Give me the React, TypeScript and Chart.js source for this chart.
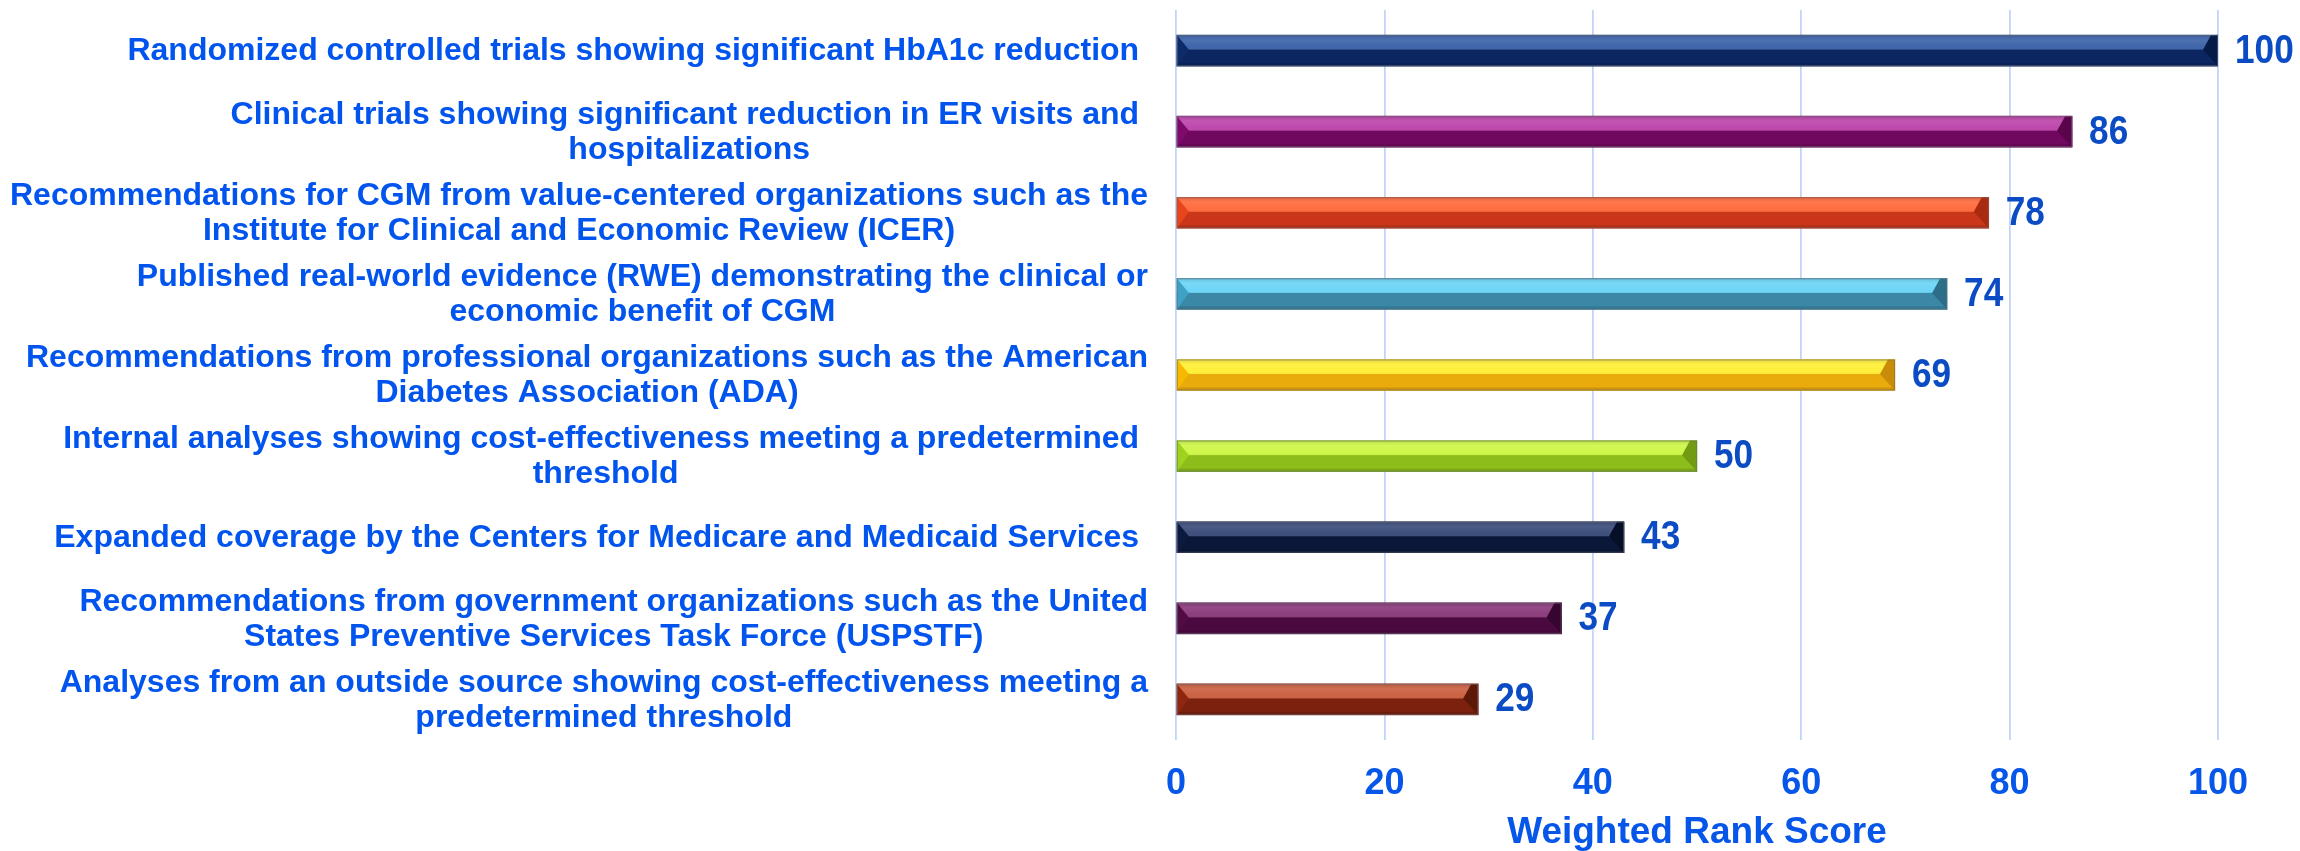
import React, { useEffect, useRef } from 'react';
import { Chart, registerables } from 'chart.js';

Chart.register(...registerables);

// ---- data ----
const categories: string[][] = [
  ['Randomized controlled trials showing significant HbA1c reduction '],
  ['Clinical trials showing significant reduction in ER visits and ', 'hospitalizations'],
  ['Recommendations for CGM from value-centered organizations such as the', 'Institute for Clinical and Economic Review (ICER)'],
  ['Published real-world evidence (RWE) demonstrating the clinical or', 'economic benefit of CGM'],
  ['Recommendations from professional organizations such as the American', 'Diabetes Association (ADA)'],
  ['Internal analyses showing cost-effectiveness meeting a predetermined ', 'threshold'],
  ['Expanded coverage by the Centers for Medicare and Medicaid Services '],
  ['Recommendations from government organizations such as the United', 'States Preventive Services Task Force (USPSTF)'],
  ['Analyses from an outside source showing cost-effectiveness meeting a', 'predetermined threshold'],
];
const scores: number[] = [100, 86, 78, 74, 69, 50, 43, 37, 29];
const xTickValues: number[] = [0, 20, 40, 60, 80, 100];
const axisTitle = 'Weighted Rank Score';

// ---- styles ----
const lightColors = ['#3F66AA', '#BE48AC', '#FF6D40', '#6FD5F7', '#FFEF3A', '#CEF74A', '#3E4F7D', '#8C3E7D', '#CB6244'];
const darkColors = ['#0B2661', '#70085F', '#C9361A', '#3A88A5', '#E9AA0C', '#8DBD1B', '#0B1739', '#4B0A3F', '#7C210E'];
const leftCapColors = ['#0D2A6A', '#7E0A6C', '#E8451C', '#3FA1C4', '#F8B800', '#9ED21F', '#0D1A40', '#520B45', '#8E2710'];
const rightCapColors = ['#061A48', '#5A044B', '#A82A10', '#2C6E88', '#C88C08', '#729A12', '#060F28', '#360530', '#5E1808'];

const FONT = '"Liberation Sans", Arial, Helvetica, sans-serif';
const LABEL_BLUE = '#0254EE';
const VALUE_BLUE = '#0B4CC4';

const bevelPlugin = {
  id: 'bevelBars',
  afterDatasetsDraw(chart: any) {
    const ctx: CanvasRenderingContext2D = chart.ctx;
    const meta = chart.getDatasetMeta(0);
    meta.data.forEach((el: any, i: number) => {
      const { x, y, base, height } = el.getProps(['x', 'y', 'base', 'height'], true);
      const L = Math.min(base, x);
      const R = Math.max(base, x);
      const T = y - height / 2;
      const B = y + height / 2;
      const S = T + height * 0.47;
      ctx.save();
      // bottom dark
      ctx.fillStyle = darkColors[i];
      ctx.fillRect(L, S, R - L, B - S);
      ctx.fillStyle = 'rgba(0,0,0,0.12)';
      ctx.fillRect(L, B - 3, R - L, 3);
      // top light
      ctx.fillStyle = lightColors[i];
      ctx.fillRect(L, T, R - L, S - T);
      const g = ctx.createLinearGradient(0, T, 0, S);
      g.addColorStop(0, 'rgba(0,0,0,0.12)');
      g.addColorStop(0.35, 'rgba(255,255,255,0.07)');
      g.addColorStop(0.8, 'rgba(255,255,255,0.0)');
      g.addColorStop(1, 'rgba(0,0,0,0.05)');
      ctx.fillStyle = g;
      ctx.fillRect(L, T, R - L, S - T);
      // left cap
      ctx.fillStyle = leftCapColors[i];
      ctx.beginPath();
      ctx.moveTo(L, T);
      ctx.lineTo(L + 12, S);
      ctx.lineTo(L, B);
      ctx.closePath();
      ctx.fill();
      // right cap
      ctx.fillStyle = rightCapColors[i];
      ctx.beginPath();
      ctx.moveTo(R - 7, T);
      ctx.lineTo(R, T);
      ctx.lineTo(R, B);
      ctx.lineTo(R - 15, S);
      ctx.closePath();
      ctx.fill();
      // border
      ctx.strokeStyle = 'rgba(110,110,120,0.55)';
      ctx.lineWidth = 1;
      ctx.strokeRect(L + 0.5, T + 0.5, R - L - 1, B - T - 1);
      // value label (slightly condensed)
      ctx.fillStyle = VALUE_BLUE;
      ctx.font = `bold 40px ${FONT}`;
      ctx.textAlign = 'left';
      ctx.textBaseline = 'middle';
      ctx.translate(R + 17, y + 1);
      ctx.scale(0.88, 1);
      ctx.fillText(String(scores[i]), 0, 0);
      ctx.restore();
    });
  },
  afterDraw(chart: any) {
    const ctx: CanvasRenderingContext2D = chart.ctx;
    const yScale = chart.scales.y;
    const right = chart.chartArea.left - 28;
    const lineH = 35;
    ctx.save();
    ctx.font = `bold 32px ${FONT}`;
    ctx.fillStyle = LABEL_BLUE;
    ctx.textAlign = 'left';
    ctx.textBaseline = 'middle';
    categories.forEach((lines, i) => {
      const cy = yScale.getPixelForTick(i);
      const blockW = Math.max(...lines.map((l) => ctx.measureText(l).width));
      const n = lines.length;
      lines.forEach((line, j) => {
        const w = ctx.measureText(line).width;
        const lx = right - blockW / 2 - w / 2;
        ctx.fillText(line, lx, cy + (j - (n - 1) / 2) * lineH + 1);
      });
    });
    ctx.restore();
  },
};

export default function App() {
  const canvasRef = useRef<HTMLCanvasElement | null>(null);

  useEffect(() => {
    if (!canvasRef.current) return;
    const chart = new Chart(canvasRef.current, {
      type: 'bar',
      data: {
        labels: categories,
        datasets: [
          {
            data: scores,
            backgroundColor: darkColors,
            borderWidth: 0,
            barThickness: 31,
          },
        ],
      },
      options: {
        indexAxis: 'y',
        animation: false,
        responsive: true,
        maintainAspectRatio: false,
        layout: { padding: { top: 10, right: 82, bottom: 0, left: 0 } },
        plugins: {
          legend: { display: false },
          tooltip: { enabled: false },
        },
        scales: {
          x: {
            type: 'linear',
            min: 0,
            max: 100,
            afterBuildTicks: (scale: any) => {
              scale.ticks = xTickValues.map((v) => ({ value: v }));
            },
            afterFit: (scale: any) => {
              scale.height = 111;
            },
            grid: {
              display: true,
              color: '#C2D5F6',
              lineWidth: 1.8,
              drawTicks: false,
            },
            border: { display: false },
            ticks: {
              color: '#0656EA',
              font: { family: FONT, size: 36, weight: 'bold', lineHeight: 1 },
              padding: 26,
            },
            title: {
              display: true,
              text: axisTitle,
              color: '#0656EA',
              font: { family: FONT, size: 37, weight: 'bold', lineHeight: 1 },
              padding: { top: 0, bottom: 0 },
            },
          },
          y: {
            type: 'category',
            afterFit: (scale: any) => {
              scale.width = 1176;
            },
            grid: { display: false, drawTicks: false },
            border: { display: false },
            ticks: { display: false },
          },
        },
      },
      plugins: [bevelPlugin],
    } as any);
    return () => chart.destroy();
  }, []);

  return (
    <div style={{ position: 'absolute', left: 0, top: 0, width: '2300px', height: '851px', background: '#ffffff' }}>
      <canvas ref={canvasRef} />
    </div>
  );
}
